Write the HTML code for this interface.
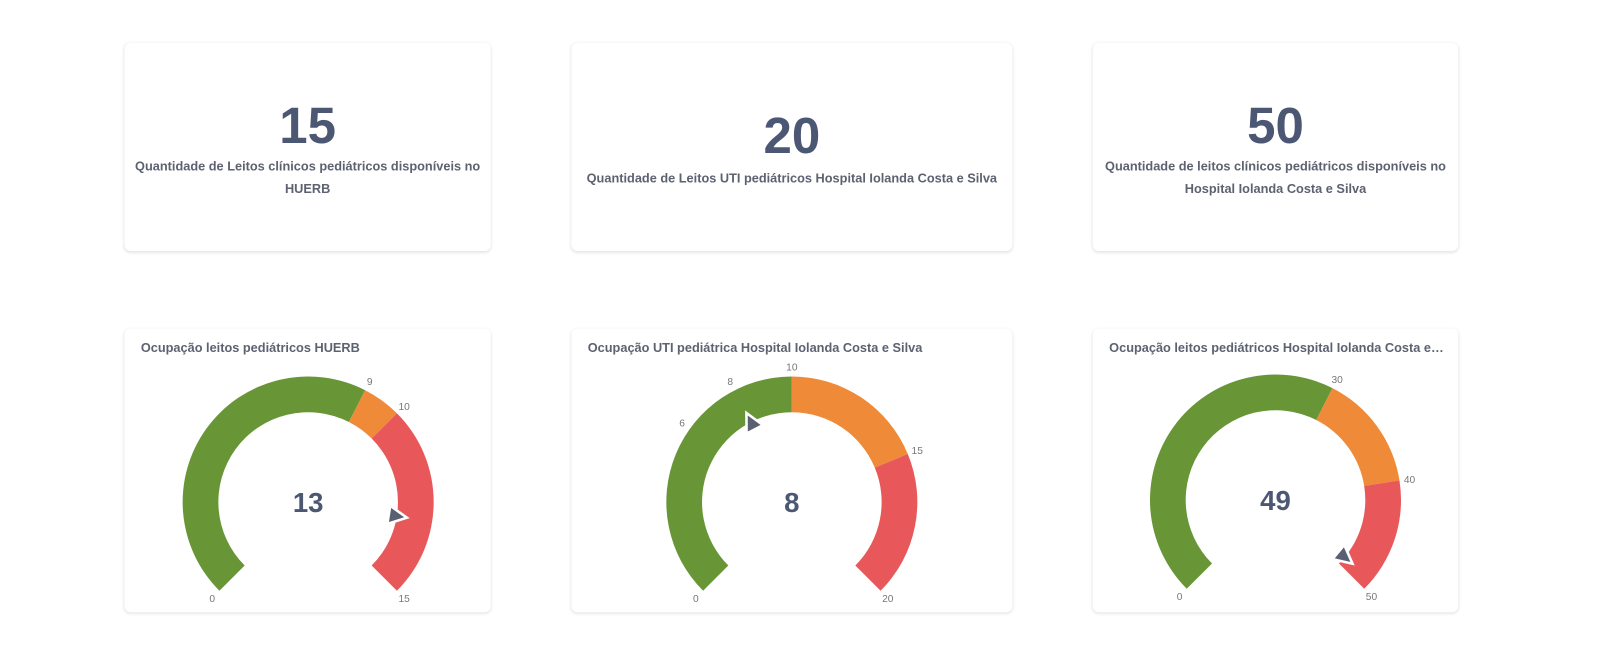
<!DOCTYPE html>
<html><head><meta charset="utf-8"><style>
body{margin:0;width:1600px;height:650px;background:#fff;font-family:"Liberation Sans",sans-serif;position:relative;overflow:hidden}
#w{position:absolute;left:0;top:0;width:1568px;height:637px;transform:scale(1.0204);transform-origin:0 0}
.card{position:absolute;background:#fff;border-radius:6px;box-shadow:0 1px 3px rgba(0,0,0,0.12);}
.num{position:absolute;left:0;right:0;text-align:center;color:#4c5773;font-weight:bold;font-size:50px}
.lbl{position:absolute;left:0;right:0;text-align:center;color:#5d6270;font-weight:bold;font-size:12.5px;line-height:22px;padding:0 8px}
.t{position:absolute;left:16px;top:12px;color:#5d6270;font-weight:bold;font-size:12.5px;white-space:nowrap}
svg{position:absolute;left:0;top:0}
</style></head><body><div id="w">
<div class="card" style="left:122px;top:42px;width:359px;height:204px">
 <div class="num" style="top:52px">15</div>
 <div class="lbl" style="top:110px">Quantidade de Leitos clínicos pediátricos disponíveis no HUERB</div></div>
<div class="card" style="left:560px;top:42px;width:432px;height:204px">
 <div class="num" style="top:62px">20</div>
 <div class="lbl" style="top:122px">Quantidade de Leitos UTI pediátricos Hospital Iolanda Costa e Silva</div></div>
<div class="card" style="left:1071px;top:42px;width:358px;height:204px">
 <div class="num" style="top:52px">50</div>
 <div class="lbl" style="top:110px">Quantidade de leitos clínicos pediátricos disponíveis no Hospital Iolanda Costa e Silva</div></div>

<div class="card" style="left:122px;top:322px;width:359px;height:278px"><div class="t">Ocupação leitos pediátricos HUERB</div></div>
<div class="card" style="left:560px;top:322px;width:432px;height:278px"><div class="t">Ocupação UTI pediátrica Hospital Iolanda Costa e Silva</div></div>
<div class="card" style="left:1071px;top:322px;width:358px;height:278px"><div class="t">Ocupação leitos pediátricos Hospital Iolanda Costa e…</div></div>

<svg id="g" width="1568" height="637" xmlns="http://www.w3.org/2000/svg"></svg>
</div>
<script>
var G=document.getElementById('g'),s='';
var GR='#689636',OR='#ef8a38',RD='#e8585a';
function pt(cx,cy,r,a){var t=a*Math.PI/180;return [cx+r*Math.sin(t),cy-r*Math.cos(t)];}
function gauge(cx,cy,max,segs,labels,val){
 var R=123,r=88;
 function ang(v){return -135+270*v/max;}
 segs.forEach(function(sg){
  var a0=ang(sg[0]),a1=ang(sg[1]),p0=pt(cx,cy,R,a0),p1=pt(cx,cy,R,a1),q1=pt(cx,cy,r,a1),q0=pt(cx,cy,r,a0);
  var lg=(a1-a0)>180?1:0;
  s+='<path fill="'+sg[2]+'" d="M'+p0+' A'+R+','+R+' 0 '+lg+' 1 '+p1+' L'+q1+' A'+r+','+r+' 0 '+lg+' 0 '+q0+'Z"/>';
 });
 labels.forEach(function(v){var a=ang(v),p=pt(cx,cy,R+10,a);
  s+='<text x="'+p[0]+'" y="'+(p[1]+4)+'" font-size="10" fill="#777" text-anchor="middle" font-family="Liberation Sans">'+v+'</text>';});
 var a=ang(val),tip=pt(cx,cy,r+10,a),b=pt(cx,cy,r-8,a),t=(a+90)*Math.PI/180;
 var b1=[b[0]+9*Math.sin(t),b[1]-9*Math.cos(t)],b2=[b[0]-9*Math.sin(t),b[1]+9*Math.cos(t)];
 s+='<path d="M'+tip+' L'+b1+' L'+b2+'Z" fill="#5a6072" stroke="#fff" stroke-width="2.5"/>';
 s+='<text x="'+cx+'" y="'+(cy+10)+'" font-size="27" font-weight="bold" fill="#4c5773" text-anchor="middle" font-family="Liberation Sans">'+val+'</text>';
}
gauge(302,492,15,[[0,9,GR],[9,10,OR],[10,15,RD]],[0,9,10,15],13);
gauge(776,492,20,[[0,10,GR],[10,15,OR],[15,20,RD]],[0,6,8,10,15,20],8);
gauge(1250,490,50,[[0,30,GR],[30,40,OR],[40,50,RD]],[0,30,40,50],49);
G.innerHTML=s;
</script>
</body></html>
